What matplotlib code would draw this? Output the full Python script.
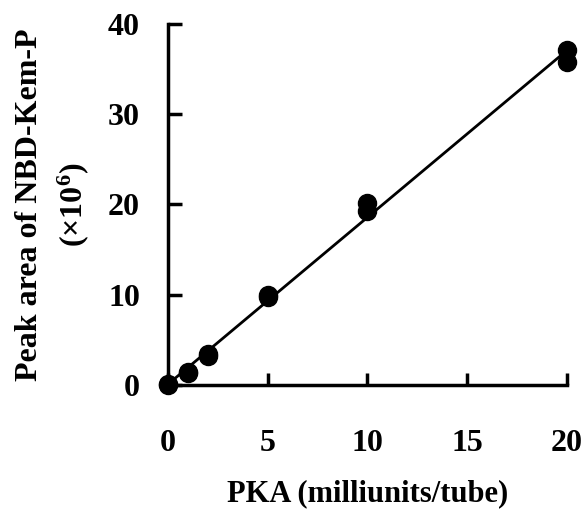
import matplotlib
matplotlib.use("Agg")
import matplotlib.pyplot as plt
import numpy as np

# PKA amount (milliunits/tube) and peak area (x10^6), duplicates per level
pka = [0, 0, 1, 1, 2, 2, 5, 5, 10, 10, 20, 20]
peak_area = [0.0, 0.1, 1.3, 1.4, 3.2, 3.4, 9.7, 9.9, 19.3, 20.1, 35.8, 37.1]

x_ticks = [0, 5, 10, 15, 20]
y_ticks = [0, 10, 20, 30, 40]

plt.rcParams['font.family'] = 'Liberation Serif'
plt.rcParams['font.weight'] = 'bold'
plt.rcParams['mathtext.fontset'] = 'custom'
plt.rcParams['mathtext.rm'] = 'Liberation Serif:bold'
plt.rcParams['mathtext.it'] = 'Liberation Serif:bold'
plt.rcParams['mathtext.bf'] = 'Liberation Serif:bold'

fig = plt.figure(figsize=(5.85, 5.11), dpi=100)
ax = fig.add_axes([0.287, 0.247, 0.682, 0.706])

# linear regression line
slope, intercept = np.polyfit(pka, peak_area, 1)
xs = np.array([0, 20])
ax.plot(xs, slope * xs + intercept, color='black', lw=2, clip_on=False)

ax.plot(pka, peak_area, 'o', color='black', ms=13, clip_on=False, zorder=3)

ax.set_xlim(0, 20)
ax.set_ylim(0, 40)
ax.set_xticks(x_ticks)
ax.set_yticks(y_ticks)

for side in ['top', 'right']:
    ax.spines[side].set_visible(False)
for side in ['left', 'bottom']:
    ax.spines[side].set_linewidth(2.5)

ax.tick_params(axis='both', direction='in', width=2.5, labelsize=23)
ax.tick_params(axis='y', length=10, pad=20)
ax.tick_params(axis='x', length=9, pad=32)

ax.set_xlabel('PKA (milliunits/tube)', fontsize=22, fontweight='bold', labelpad=15)
ax.set_ylabel('Peak area of NBD-Kem-P\n(×10$^6$)', fontsize=23, fontweight='bold',
              linespacing=1.45, labelpad=12)

fig.savefig('out.png', dpi=100)
